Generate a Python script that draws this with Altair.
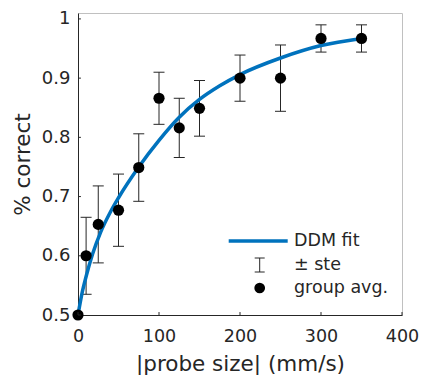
import altair as alt
import pandas as pd

# ---- data ----
probe = [0, 10, 25, 50, 75, 100, 125, 150, 200, 250, 300, 350]
acc = [0.5, 0.6, 0.653, 0.677, 0.749, 0.866, 0.816, 0.849, 0.9, 0.9, 0.967, 0.967]
ste = [0.0, 0.065, 0.065, 0.061, 0.057, 0.044, 0.05, 0.047, 0.039, 0.056, 0.023, 0.023]

fit_x = [0, 5, 10, 18, 28, 40, 50, 75, 100, 125, 150, 175, 200, 250, 300, 350]
fit_y = [0.5, 0.537, 0.565, 0.603, 0.64, 0.674, 0.698, 0.75, 0.795, 0.834, 0.864, 0.887, 0.906, 0.934, 0.955, 0.967]

x_ticks = [0, 100, 200, 300, 400]
y_ticks = [0.5, 0.6, 0.7, 0.8, 0.9, 1.0]
legend_labels = ["DDM fit", "\u00b1 ste", "group avg."]

FONT = "DejaVu Sans"
DARK = "#262626"
BLUE = "#0072BD"

df = pd.DataFrame({"probe": probe, "acc": acc, "ste": ste})
df["lo"] = df["acc"] - df["ste"]
df["hi"] = df["acc"] + df["ste"]
eb = df[df["ste"] > 0]
fit = pd.DataFrame({"x": fit_x, "y": fit_y})

xs = alt.Scale(domain=[0, 400], nice=False, zero=False)
ys = alt.Scale(domain=[0.5, 1.01], nice=False, zero=False)

x_axis = alt.Axis(
    values=x_ticks, title="|probe size| (mm/s)", grid=False, ticks=False, tickSize=0,
    labelFontSize=17.5, labelColor=DARK, labelPadding=12, labelFont=FONT,
    titleFontSize=21.5, titleFont=FONT, titleFontWeight="normal", titleColor=DARK,
    titleY=55, titleBaseline="alphabetic",
    domainColor=DARK, domainWidth=1, labelFlush=False, labelOverlap=False,
)
y_axis = alt.Axis(
    values=y_ticks, title="% correct", format=".1~f", grid=False, ticks=False, tickSize=0,
    labelFontSize=18, labelColor=DARK, labelPadding=8, labelFont=FONT,
    titleFontSize=21.5, titleFont=FONT, titleFontWeight="normal", titleColor=DARK,
    titleX=-49, titleBaseline="alphabetic", titleAngle=270,
    domainColor=DARK, domainWidth=1, labelFlush=False, labelOverlap=False,
)


def X(f):
    return alt.X(f, scale=xs, axis=x_axis)


def Y(f):
    return alt.Y(f, scale=ys, axis=y_axis)


# error bars
bars = alt.Chart(eb).mark_rule(color=DARK, strokeWidth=1).encode(
    x=X("probe:Q"), y=Y("lo:Q"), y2="hi:Q"
)
cap_lo = alt.Chart(eb).mark_tick(orient="horizontal", size=11, thickness=1, color=DARK, opacity=1).encode(
    x=X("probe:Q"), y=Y("lo:Q")
)
cap_hi = alt.Chart(eb).mark_tick(orient="horizontal", size=11, thickness=1, color=DARK, opacity=1).encode(
    x=X("probe:Q"), y=Y("hi:Q")
)

line = alt.Chart(fit).mark_line(color=BLUE, strokeWidth=3.5, interpolate="monotone").encode(
    x=X("x:Q"), y=Y("y:Q")
)

pts = alt.Chart(df).mark_circle(size=125, color="black", opacity=1).encode(
    x=X("probe:Q"), y=Y("acc:Q")
)

# inward axis ticks
xt = alt.Chart(pd.DataFrame({"v": x_ticks})).mark_rule(color=DARK, strokeWidth=1).encode(
    x=X("v:Q"), y=alt.YDatum(0.5, scale=ys, axis=y_axis), y2=alt.Y2Datum(0.505)
)
yt = alt.Chart(pd.DataFrame({"v": y_ticks})).mark_rule(color=DARK, strokeWidth=1).encode(
    y=Y("v:Q"), x=alt.XDatum(0, scale=xs, axis=x_axis), x2=alt.X2Datum(3.6)
)

# manual legend
one = pd.DataFrame({"a": [0]})
leg_line = alt.Chart(one).mark_rule(color=BLUE, strokeWidth=3.5).encode(
    x=alt.value(150.7), x2=alt.value(209.7), y=alt.value(228.0)
)
leg_eb = alt.Chart(one).mark_rule(color=DARK, strokeWidth=1).encode(
    x=alt.value(181.7), y=alt.value(245.0), y2=alt.value(259.0)
)
leg_cap1 = alt.Chart(one).mark_rule(color=DARK, strokeWidth=1).encode(
    x=alt.value(176.7), x2=alt.value(186.7), y=alt.value(245.0)
)
leg_cap2 = alt.Chart(one).mark_rule(color=DARK, strokeWidth=1).encode(
    x=alt.value(176.7), x2=alt.value(186.7), y=alt.value(259.0)
)
leg_dot = alt.Chart(one).mark_circle(size=115, color="black", opacity=1).encode(
    x=alt.value(181.7), y=alt.value(275.0)
)
leg_texts = []
for lab, yy in zip(legend_labels, [228.0, 252.0, 275.0]):
    leg_texts.append(
        alt.Chart(pd.DataFrame({"t": [lab]})).mark_text(
            align="left", baseline="middle", fontSize=17.5, font=FONT, color=DARK
        ).encode(x=alt.value(216), y=alt.value(yy), text="t:N")
    )

chart = alt.layer(
    bars, cap_lo, cap_hi, line, pts, xt, yt,
    leg_line, leg_eb, leg_cap1, leg_cap2, leg_dot, *leg_texts
).properties(
    width=324, height=302,
    padding={"left": 70, "top": 5, "right": 17, "bottom": 60},
    autosize="none",
    background="white",
).configure_view(
    stroke="#c0c0c0", strokeWidth=1
)

chart.save("out.html", embed_options={"renderer": "svg", "actions": False})
